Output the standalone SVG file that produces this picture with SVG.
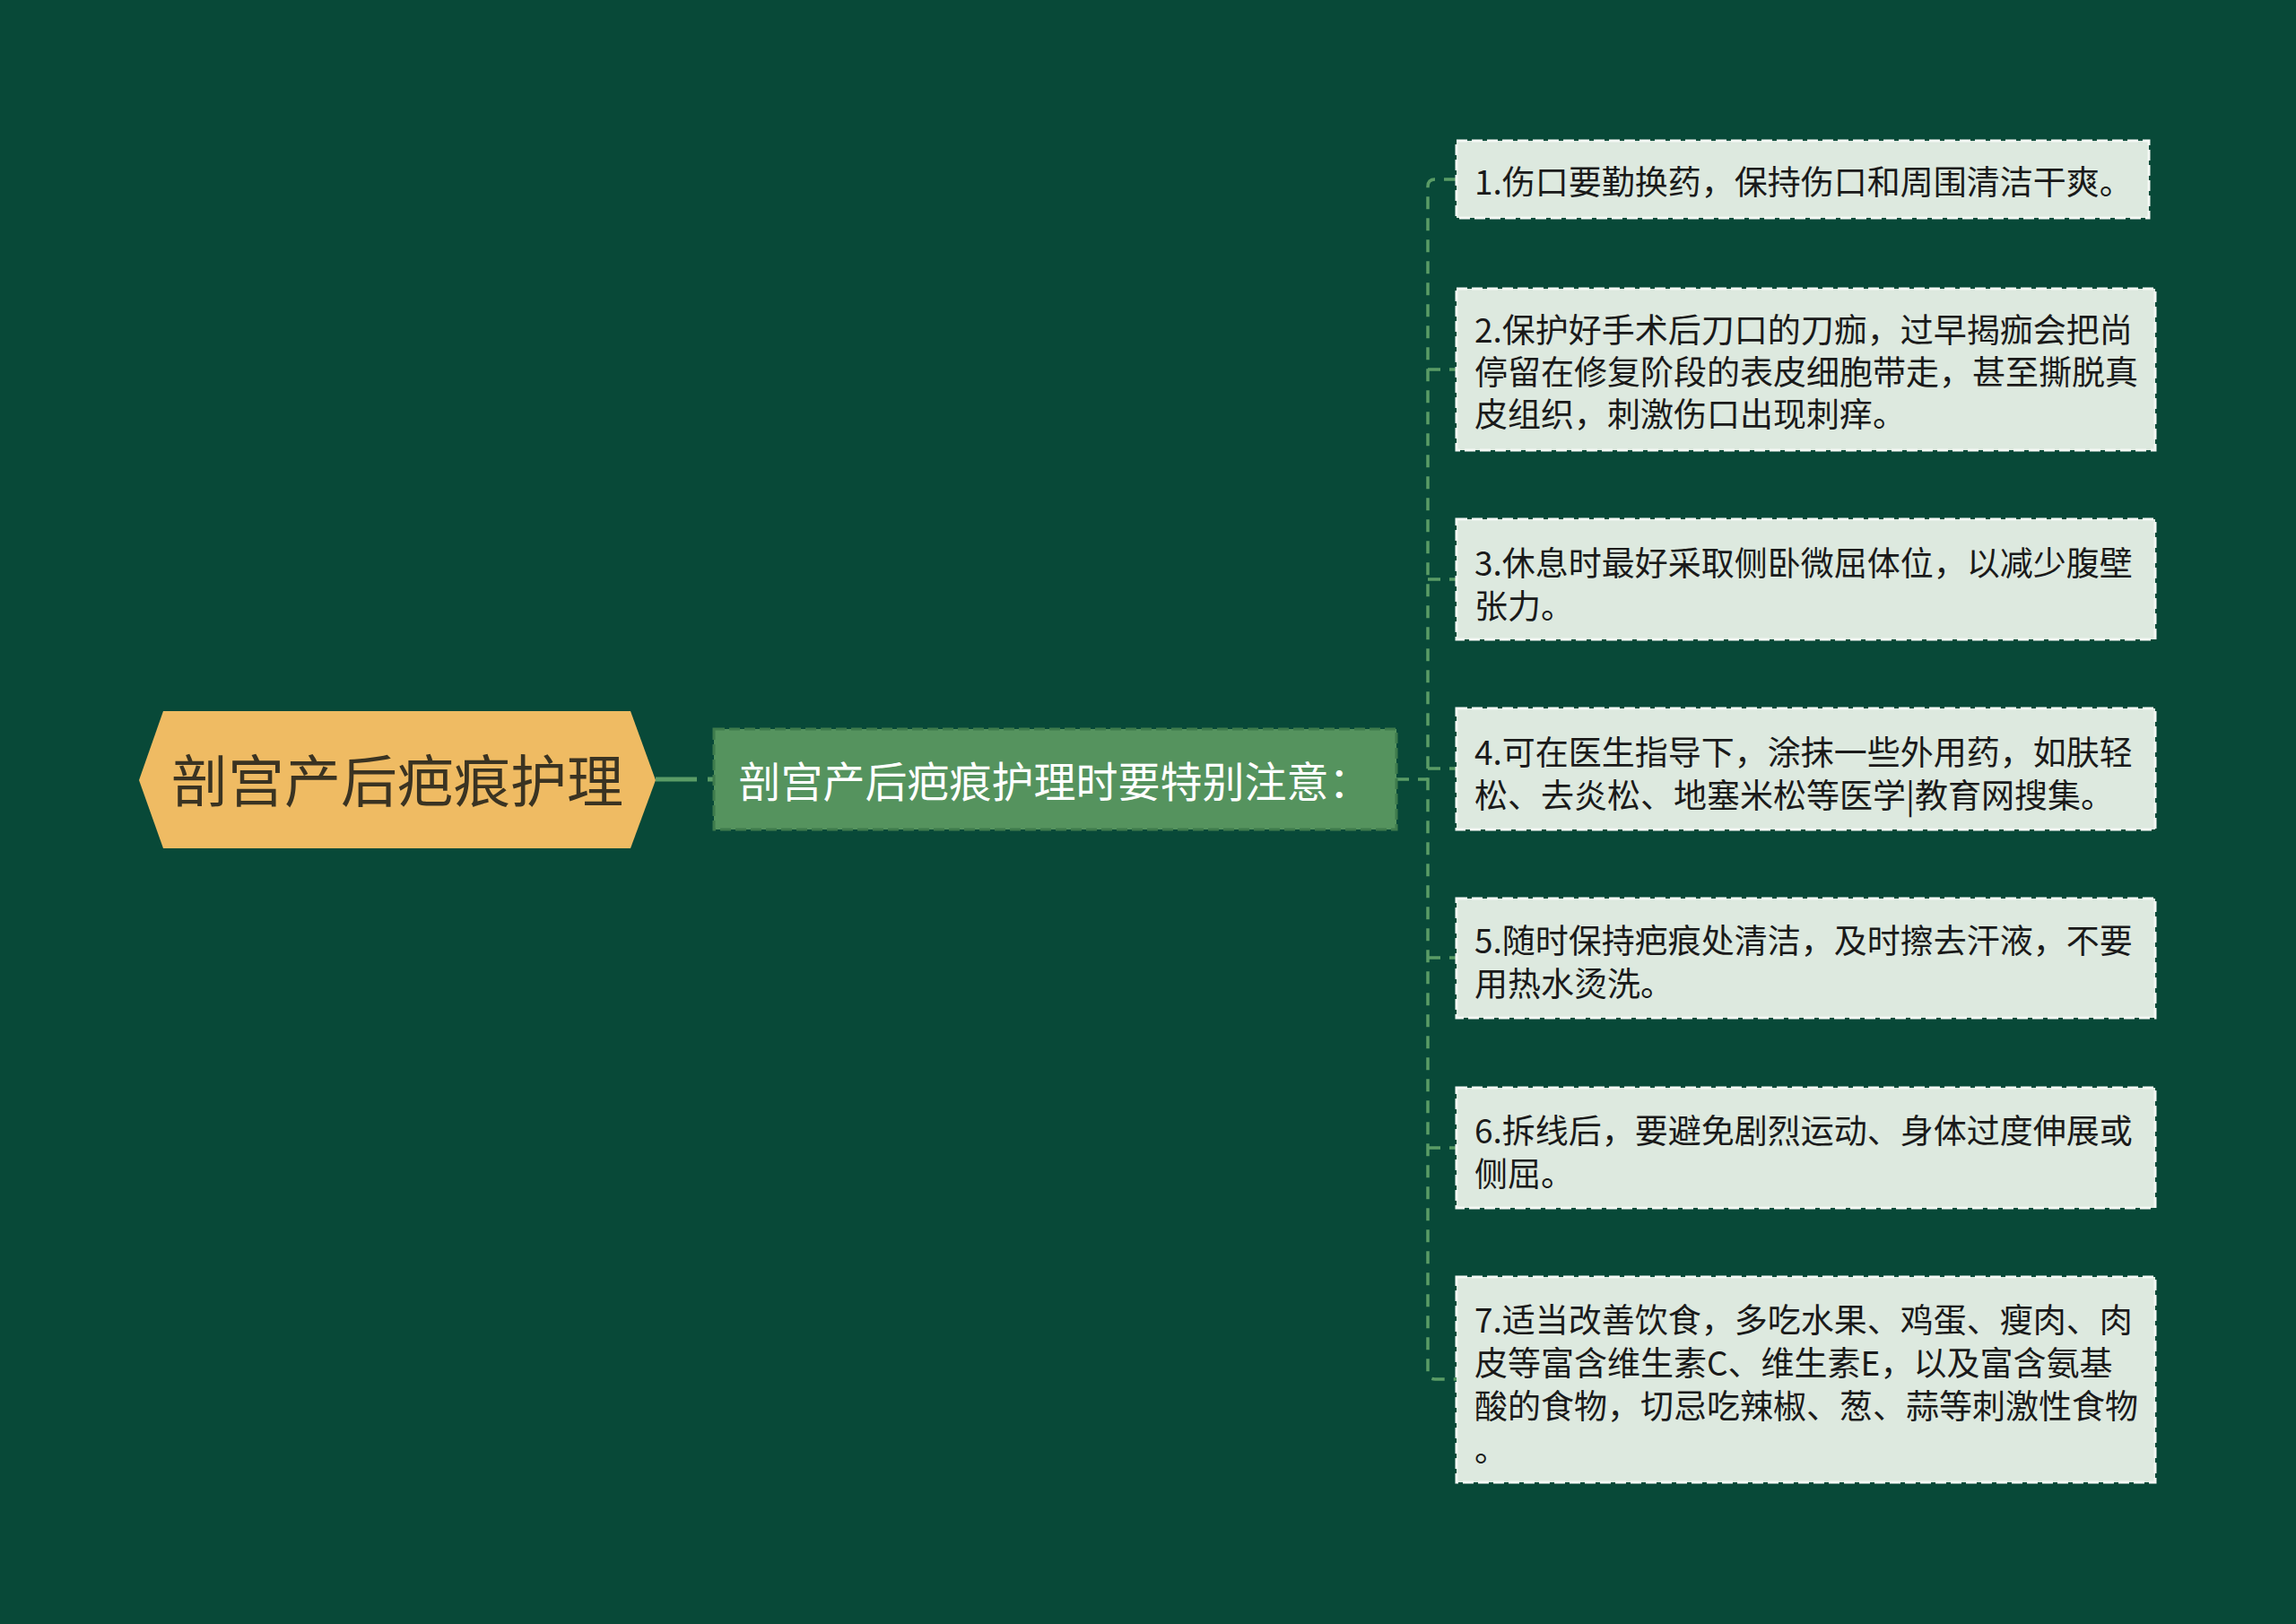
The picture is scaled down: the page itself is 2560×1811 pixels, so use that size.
<svg xmlns="http://www.w3.org/2000/svg" width="2560" height="1811" viewBox="0 0 2560 1811">
<style>
.conn{fill:none;stroke:#5a9c66;stroke-width:3.5;stroke-dasharray:14 10}
.leaf rect{fill:#dde9df;stroke:#f4f8f4;stroke-width:3;stroke-dasharray:12 5}
.leaf text{font-family:"Noto Sans CJK SC","Noto Sans",sans-serif;font-size:37px;fill:#1a1a1a;dominant-baseline:central}
</style>
<rect width="2560" height="1811" fill="#084938"/>
<g id="connectors">
<path class="conn" d="M731 869 H796" style="stroke-width:5;stroke-dasharray:46 12"/>
<path class="conn" d="M1557 869 H1592"/>
<path class="conn" d="M1624 200 H1600 Q1592 200 1592 208 V1530 Q1592 1538 1600 1538 H1624"/>
<path class="conn" d="M1592 412 H1624"/>
<path class="conn" d="M1592 646 H1624"/>
<path class="conn" d="M1592 857 H1624"/>
<path class="conn" d="M1592 1068 H1624"/>
<path class="conn" d="M1592 1280 H1624"/>
</g>
<g id="root">
<polygon points="155,870 182,793 703,793 731,870 703,946 182,946" fill="#efbb63"/>
<text x="443" y="866" text-anchor="middle" dominant-baseline="central" font-family="Noto Sans CJK SC, sans-serif" font-size="63" fill="#3a3322">剖宫产后疤痕护理</text>
</g>
<g id="child">
<rect x="796" y="813" width="761" height="112" fill="#55935e" stroke="#3e7b4c" stroke-width="3" stroke-dasharray="12 5"/>
<text x="1176" y="868" text-anchor="middle" dominant-baseline="central" font-family="Noto Sans CJK SC, sans-serif" font-size="47" fill="#ffffff">剖宫产后疤痕护理时要特别注意：</text>
</g>
<g id="leaf1" class="leaf">
<rect x="1624" y="157" width="772" height="86"/>
<text x="1644" y="201">1.伤口要勤换药，保持伤口和周围清洁干爽。</text>
</g>
<g id="leaf2" class="leaf">
<rect x="1624" y="322" width="779" height="180"/>
<text x="1644" y="366">2.保护好手术后刀口的刀痂，过早揭痂会把尚<tspan x="1644" y="413">停留在修复阶段的表皮细胞带走，甚至撕脱真</tspan><tspan x="1644" y="460">皮组织，刺激伤口出现刺痒。</tspan></text>
</g>
<g id="leaf3" class="leaf">
<rect x="1624" y="579" width="779" height="134"/>
<text x="1644" y="626">3.休息时最好采取侧卧微屈体位，以减少腹壁<tspan x="1644" y="674">张力。</tspan></text>
</g>
<g id="leaf4" class="leaf">
<rect x="1624" y="790" width="779" height="135"/>
<text x="1644" y="837">4.可在医生指导下，涂抹一些外用药，如肤轻<tspan x="1644" y="885">松、去炎松、地塞米松等医学|教育网搜集。</tspan></text>
</g>
<g id="leaf5" class="leaf">
<rect x="1624" y="1002" width="779" height="133"/>
<text x="1644" y="1047">5.随时保持疤痕处清洁，及时擦去汗液，不要<tspan x="1644" y="1095">用热水烫洗。</tspan></text>
</g>
<g id="leaf6" class="leaf">
<rect x="1624" y="1213" width="779" height="134"/>
<text x="1644" y="1259">6.拆线后，要避免剧烈运动、身体过度伸展或<tspan x="1644" y="1307">侧屈。</tspan></text>
</g>
<g id="leaf7" class="leaf">
<rect x="1624" y="1424" width="779" height="229"/>
<text x="1644" y="1470">7.适当改善饮食，多吃水果、鸡蛋、瘦肉、肉<tspan x="1644" y="1518">皮等富含维生素C、维生素E，以及富含氨基</tspan><tspan x="1644" y="1566">酸的食物，切忌吃辣椒、葱、蒜等刺激性食物</tspan><tspan x="1644" y="1614">。</tspan></text>
</g>
</svg>
